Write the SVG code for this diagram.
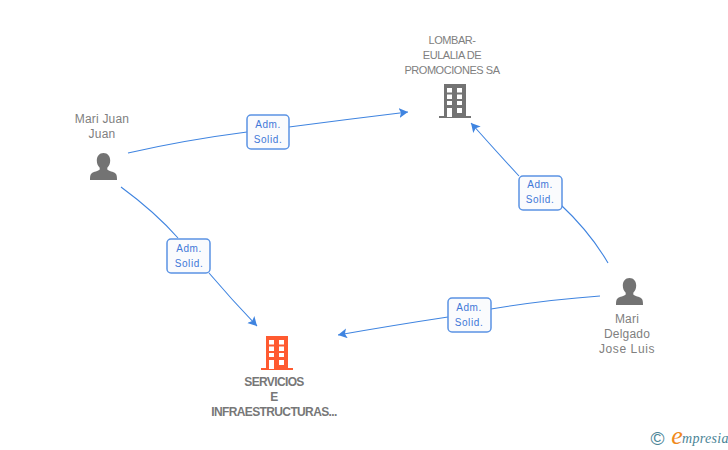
<svg xmlns="http://www.w3.org/2000/svg" width="728" height="450" viewBox="0 0 728 450">
<style>
text{font-family:"Liberation Sans",Arial,sans-serif;text-anchor:middle}
.n{font-size:12px;fill:#808080;letter-spacing:.2px}
.s{font-size:11px;fill:#808080;letter-spacing:-.45px}
.nb{font-size:12px;fill:#777;font-weight:bold;letter-spacing:-.63px}
.c{fill:none;stroke:#3f84e0;stroke-width:1.1}
.box{fill:#fafbfd;stroke:#5b93e4;stroke-width:1.5}
.l{font-size:10px;fill:#3f78d8;letter-spacing:.6px}
</style>
<defs>
<marker id="a" markerWidth="12" markerHeight="12" refX="9" refY="5" orient="auto" markerUnits="userSpaceOnUse"><path d="M0 0L9 5L0 10L2 5Z" fill="#3f84e0"/></marker>
<path id="person" d="M0-27C4.200-27 6.700-23.800 6.700-19.500C6.700-16.500 5.500-13.800 3.800-12.300V-10.500C5-9 10-8.300 12-6.500C13.300-5.300 13.500-3 13.500 0H-13.500C-13.500-3-13.300-5.300-12-6.500C-10-8.300-5-9-3.800-10.500V-12.300C-5.500-13.800-6.700-16.500-6.700-19.500C-6.700-23.800-4.200-27 0-27Z"/>
<g id="bld">
<path d="M-11-33H11V-1H16V1H-16V-1H-11Z"/>
<g fill="#fff"><rect x="-8" y="-29" width="5" height="4.500"/><rect x="2" y="-29" width="5" height="4.500"/><rect x="-8" y="-22.500" width="5" height="4.500"/><rect x="2" y="-22.500" width="5" height="4.500"/><rect x="-8" y="-16" width="5" height="4"/><rect x="2" y="-16" width="5" height="4"/><rect x="-8" y="-9" width="5" height="9"/><rect x="2" y="-9" width="5" height="5"/></g>
</g>
</defs>
<g id="connectors">
<path class="c" d="M128 153Q185 140 247 132"/>
<path class="c" d="M289 127Q350 119 408 112" marker-end="url(#a)"/>
<path class="c" d="M121 187Q155 212 178 238"/>
<path class="c" d="M209 273Q232 300 257 326" marker-end="url(#a)"/>
<path class="c" d="M608 263Q590 232 560 204"/>
<path class="c" d="M519 176Q495 150 471 123" marker-end="url(#a)"/>
<path class="c" d="M600 296Q545 300 491 309"/>
<path class="c" d="M448 317Q395 325 338 335" marker-end="url(#a)"/>
</g>
<g id="edge-label-1"><rect class="box" x="247" y="115" width="42" height="34" rx="4"/><text class="l" x="268" y="128">Adm.</text><text class="l" x="268" y="143">Solid.</text></g>
<g id="edge-label-2"><rect class="box" x="167" y="239" width="43" height="34" rx="4"/><text class="l" x="189" y="252">Adm.</text><text class="l" x="189" y="267">Solid.</text></g>
<g id="edge-label-3"><rect class="box" x="519" y="176" width="43" height="34" rx="4"/><text class="l" x="540" y="188">Adm.</text><text class="l" x="540" y="203">Solid.</text></g>
<g id="edge-label-4"><rect class="box" x="448" y="298" width="43" height="34" rx="4"/><text class="l" x="469" y="311">Adm.</text><text class="l" x="469" y="326">Solid.</text></g>
<g id="node-marijuan"><text class="n" x="102" y="123">Mari Juan</text><text class="n" x="102" y="138">Juan</text><use href="#person" x="103.500" y="180" fill="#737373"/></g>
<g id="node-lombar"><text class="s" x="452" y="44">LOMBAR-</text><text class="s" x="452" y="59">EULALIA DE</text><text class="s" x="452" y="74">PROMOCIONES SA</text><use href="#bld" x="455" y="117" fill="#737373"/></g>
<g id="node-servicios"><text class="nb" x="274" y="386">SERVICIOS</text><text class="nb" x="274" y="401">E</text><text class="nb" x="274" y="416">INFRAESTRUCTURAS...</text><use href="#bld" x="277" y="369" fill="#ff5a30"/></g>
<g id="node-mari"><text class="n" x="627" y="323">Mari</text><text class="n" x="627" y="338">Delgado</text><text class="n" x="627" y="353" style="letter-spacing:.6px">Jose Luis</text><use href="#person" x="629.500" y="305" fill="#737373"/></g>
<g id="logo"><text x="657.500" y="444.500" font-size="19" fill="#4a8496">©</text><text x="677" y="444" font-size="26" fill="#f08a1c" style="font-family:'Liberation Serif',serif;font-style:italic">e</text><text x="682" y="443" font-size="14" fill="#4a8496" style="font-family:'Liberation Serif',serif;font-style:italic;text-anchor:start;letter-spacing:.3px">mpresia</text></g>
</svg>
